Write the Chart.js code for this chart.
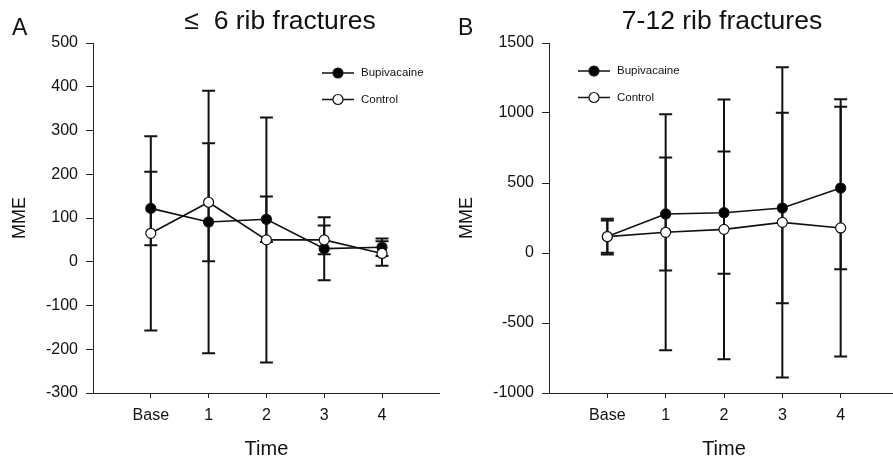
<!DOCTYPE html>
<html>
<head>
<meta charset="utf-8">
<script src="https://cdn.jsdelivr.net/npm/chart.js@4"></script>
<style>
html, body { margin: 0; padding: 0; background: #fff; overflow: hidden; width: 893px; height: 461px; }
canvas { position: absolute; top: 0; }
#chartA { left: 0; }
#chartB { left: 446px; }
</style>
</head>
<body>
<canvas id="chartA" width="446" height="461"></canvas>
<canvas id="chartB" width="460" height="461"></canvas>
<script>
var categorias = ['Base', '1', '2', '3', '4'];

// painel A: <= 6 fraturas
var bupiA = [122, 91, 97, 30, 33];
var bupiErroA = [84, 300, 52, 72, 20];
var controleA = [65, 136, 50, 50, 19];
var controleErroA = [222, 135, 280, 33, 28];
var ticksA = [-300, -200, -100, 0, 100, 200, 300, 400, 500];

// painel B: 7-12 fraturas
var bupiB = [117, 279, 288, 321, 464];
var bupiErroB = [128, 404, 437, 680, 580];
var controleB = [117, 148, 169, 219, 179];
var controleErroB = [115, 843, 928, 1108, 919];
var ticksB = [-1000, -500, 0, 500, 1000, 1500];

var fonte = "'Liberation Sans', Arial, sans-serif";
var corTexto = '#111';

function pontos(valores) {
  return valores.map(function (v, i) { return { x: i, y: v }; });
}

var pluginExtras = {
  id: 'extras',
  beforeDatasetsDraw: function (chart) {
    var ctx = chart.ctx, sx = chart.scales.x, sy = chart.scales.y;
    ctx.save();
    ctx.strokeStyle = '#111';
    ctx.lineWidth = 2;
    chart.data.datasets.forEach(function (ds) {
      ds.data.forEach(function (p, i) {
        var e = ds.erros[i];
        var px = sx.getPixelForValue(p.x);
        var cima = sy.getPixelForValue(p.y + e);
        var baixo = sy.getPixelForValue(p.y - e);
        ctx.beginPath();
        ctx.moveTo(px, cima); ctx.lineTo(px, baixo);
        ctx.moveTo(px - 6.5, cima); ctx.lineTo(px + 6.5, cima);
        ctx.moveTo(px - 6.5, baixo); ctx.lineTo(px + 6.5, baixo);
        ctx.stroke();
      });
    });
    ctx.restore();
  },
  afterDraw: function (chart, args, op) {
    var ctx = chart.ctx;
    ctx.save();
    ctx.fillStyle = corTexto;
    ctx.textBaseline = 'alphabetic';
    ctx.font = '23px ' + fonte;
    ctx.textAlign = 'left';
    ctx.fillText(op.letra, 12, 35);
    ctx.font = '26.5px ' + fonte;
    ctx.textAlign = 'center';
    ctx.fillText(op.titulo, op.tituloX, 29);

    // legenda
    chart.data.datasets.forEach(function (ds, i) {
      var lx = op.legendaX, ly = op.legendaY + i * 26.5;
      ctx.strokeStyle = '#111';
      ctx.lineWidth = 1.5;
      ctx.beginPath();
      ctx.moveTo(lx - 16, ly); ctx.lineTo(lx + 16, ly);
      ctx.stroke();
      ctx.beginPath();
      ctx.arc(lx, ly, 5, 0, Math.PI * 2);
      ctx.fillStyle = ds.pointBackgroundColor;
      ctx.fill();
      ctx.lineWidth = 1.2;
      ctx.stroke();
      ctx.fillStyle = corTexto;
      ctx.font = '11.5px ' + fonte;
      ctx.textAlign = 'left';
      ctx.textBaseline = 'middle';
      ctx.fillText(ds.label, lx + 23, ly);
    });
    ctx.restore();
  }
};

function criarGrafico(id, bupi, bupiErro, controle, controleErro, ticksY, larguraY, padDireita, extras) {
  return new Chart(document.getElementById(id), {
    type: 'line',
    data: {
      datasets: [{
        label: 'Bupivacaine',
        data: pontos(bupi),
        erros: bupiErro,
        order: 1,
        borderColor: '#111',
        borderWidth: 1.6,
        pointRadius: 5,
        pointBackgroundColor: '#000',
        pointBorderColor: '#111',
        pointBorderWidth: 1.2,
        tension: 0,
        clip: false
      }, {
        label: 'Control',
        data: pontos(controle),
        erros: controleErro,
        order: 0,
        borderColor: '#111',
        borderWidth: 1.6,
        pointRadius: 5,
        pointBackgroundColor: '#fff',
        pointBorderColor: '#111',
        pointBorderWidth: 1.2,
        tension: 0,
        clip: false
      }]
    },
    options: {
      responsive: false,
      animation: false,
      layout: { padding: { top: 43, right: padDireita, bottom: 0, left: 0 } },
      scales: {
        x: {
          type: 'linear',
          min: -1,
          max: 5,
          afterBuildTicks: function (s) {
            s.ticks = categorias.map(function (c, i) { return { value: i }; });
          },
          afterFit: function (s) { s.height = 68; },
          ticks: {
            callback: function (v) { return categorias[v]; },
            color: corTexto,
            font: { family: fonte, size: 16 },
            padding: 8,
            maxRotation: 0
          },
          grid: { drawOnChartArea: false, color: '#222', tickLength: 5 },
          border: { color: '#222', width: 1 },
          title: {
            display: true,
            text: 'Time',
            color: corTexto,
            font: { family: fonte, size: 20 },
            padding: { top: 0, bottom: 0 }
          }
        },
        y: {
          min: ticksY[0],
          max: ticksY[ticksY.length - 1],
          afterBuildTicks: function (s) {
            s.ticks = ticksY.map(function (v) { return { value: v }; });
          },
          afterFit: function (s) { s.width = larguraY; },
          ticks: {
            callback: function (v) { return String(v); },
            color: corTexto,
            font: { family: fonte, size: 16 },
            padding: 8
          },
          grid: { drawOnChartArea: false, color: '#222', tickLength: 7 },
          border: { color: '#222', width: 1 },
          title: {
            display: true,
            text: 'MME',
            color: corTexto,
            font: { family: fonte, size: 18 },
            padding: { top: extras.padTitulo, bottom: 0 }
          }
        }
      },
      plugins: {
        legend: { display: false },
        tooltip: { enabled: false },
        extras: extras
      }
    },
    plugins: [pluginExtras]
  });
}

var graficoA = criarGrafico('chartA', bupiA, bupiErroA, controleA, controleErroA, ticksA, 93, 3.5,
  { letra: 'A', titulo: '\u2264  6 rib fractures', tituloX: 280, legendaX: 338, legendaY: 73, padTitulo: 9 });

var graficoB = criarGrafico('chartB', bupiB, bupiErroB, controleB, controleErroB, ticksB, 103, 7,
  { letra: 'B', titulo: '7-12 rib fractures', tituloX: 276, legendaX: 148, legendaY: 71, padTitulo: 10 });
</script>
</body>
</html>
